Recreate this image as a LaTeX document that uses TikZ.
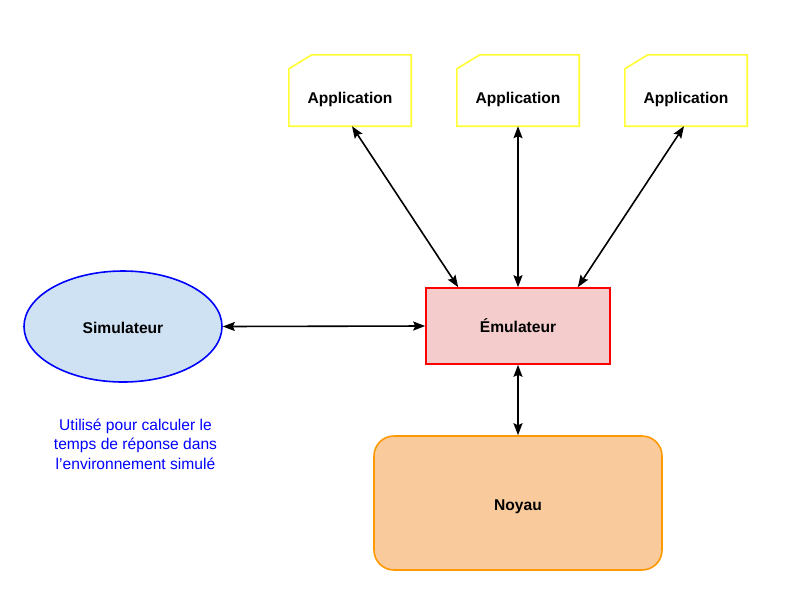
\documentclass[tikz,border=0pt]{standalone}
\usepackage{fontspec}
\setmainfont{Liberation Sans}
\usetikzlibrary{arrows.meta,shapes.geometric}
\definecolor{appline}{HTML}{FFFF33}
\definecolor{emufill}{HTML}{F4CCCC}
\definecolor{simfill}{HTML}{CFE2F3}
\definecolor{kernfill}{HTML}{F9CB9C}
\definecolor{kernline}{HTML}{FF9900}

\begin{document}
\begin{tikzpicture}[x=1pt, y=-1pt,
    lbl/.style={font=\bfseries\fontsize{15.6}{18}\selectfont},
    appbox/.style={minimum width=122pt, minimum height=71pt, inner sep=0pt},
    card/.style={draw=appline, line width=1.6pt, line join=miter},
    emubox/.style={draw=red, fill=emufill, line width=1.6pt,
                   minimum width=184pt, minimum height=76pt, lbl},
    simnode/.style={ellipse, draw=blue, fill=simfill, line width=1.6pt,
                    minimum width=198pt, minimum height=111pt, inner sep=0pt, lbl},
    kernbox/.style={rounded corners=20pt, draw=kernline, fill=kernfill,
                    line width=1.6pt, minimum width=288pt, minimum height=134pt, lbl},
    link/.style={<->, >={Stealth[length=12pt,width=9pt,inset=2pt]}, line width=1.6pt}]
  \useasboundingbox (0,0) rectangle (799,611);
  % applications
  \foreach \n/\x in {a1/350, a2/518, a3/686}{
    \node[appbox, label={[lbl, yshift=-8.5pt]center:Application}] (\n) at (\x,90.5) {};
    \draw[card] (\n.south west) -- (\n.south east) -- (\n.north east)
      -- ([xshift=23pt]\n.north west) -- ([yshift=-14pt]\n.north west) -- cycle;
  }
  \node[emubox] (emu) at (518,326) {Émulateur};
  \node[simnode, text height=15pt] (sim) at (123,326.5) {Simulateur};
  \node[kernbox, text height=19pt] (ker) at (518,503) {Noyau};
  \node[text=blue, align=center, font=\fontsize{15.6}{19.5}\selectfont] (note) at (135.5,444)
    {Utilisé pour calculer le\\temps de réponse dans\\l’environnement simulé};
  % connectors
  \draw[link] ([xshift=2pt]a1.south) -- ([xshift=33pt]emu.north west);
  \draw[link] (a2.south) -- (emu.north);
  \draw[link] ([xshift=-2pt]a3.south) -- ([xshift=-33pt]emu.north east);
  \draw[link] (sim.east) -- (emu.west);
  \draw[link] (emu.south) -- (ker.north);
\end{tikzpicture}
\end{document}
